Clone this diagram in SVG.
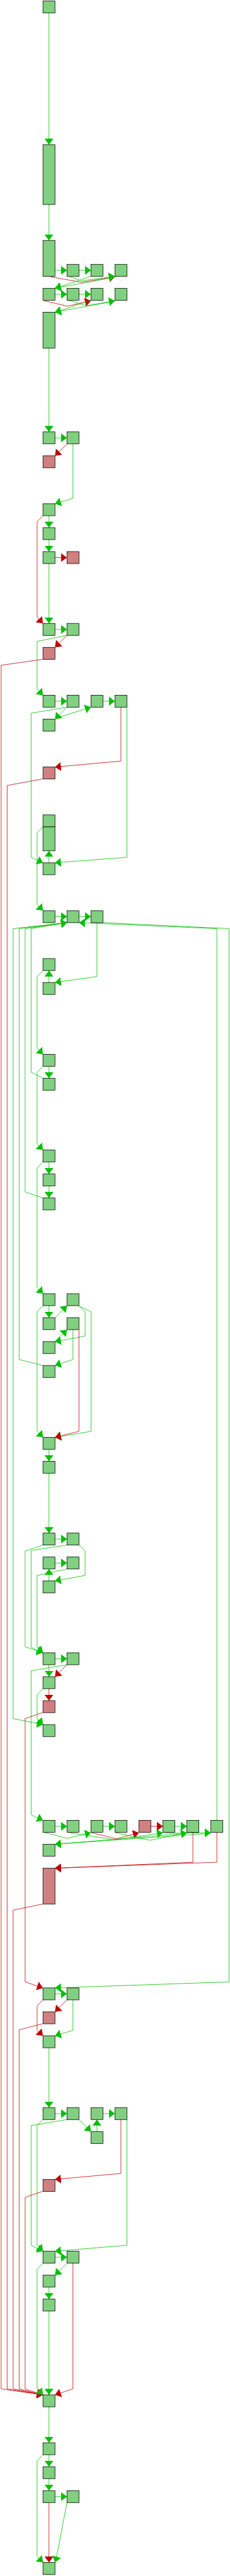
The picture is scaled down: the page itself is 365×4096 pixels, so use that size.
<svg xmlns="http://www.w3.org/2000/svg" width="365" height="4096" viewBox="0 0 365 4096">
<style>
.n{fill:#80d080;stroke:#000;stroke-width:1}
.nr{fill:#d08080;stroke:#000;stroke-width:1}
.eg{fill:none;stroke:#00c000;stroke-width:1;marker-end:url(#ag)}
.er{fill:none;stroke:#c00000;stroke-width:1;marker-end:url(#ar)}
</style>
<defs>
<marker id="ag" markerWidth="12" markerHeight="18" refX="12" refY="9" orient="auto" markerUnits="userSpaceOnUse"><path d="M0,0L12,9L0,18z" fill="#00c000"/></marker>
<marker id="ar" markerWidth="12" markerHeight="18" refX="12" refY="9" orient="auto" markerUnits="userSpaceOnUse"><path d="M0,0L12,9L0,18z" fill="#c00000"/></marker>
</defs>
<rect width="365" height="4096" fill="#fff"/>
<g transform="scale(0.793)">
<g id="connectors">
<polyline class="eg" points="98,26 98,290"/>
<polyline class="eg" points="98,410 98,482"/>
<polyline class="eg" points="110,542 134,542"/>
<polyline class="eg" points="158,542 182,542"/>
<polyline class="er" points="101,555 163,566 230,555"/>
<polyline class="eg" points="137,554 163,563 230,554"/>
<polyline class="eg" points="182,554 123,574 110,578"/>
<polyline class="eg" points="230,556 125,575 110,578"/>
<polyline class="eg" points="110,590 134,590"/>
<polyline class="eg" points="158,590 182,590"/>
<polyline class="er" points="88,603 135,614 182,603"/>
<polyline class="eg" points="137,602 173,613 230,603"/>
<polyline class="eg" points="182,602 123,622 110,626"/>
<polyline class="eg" points="230,604 125,623 110,626"/>
<polyline class="eg" points="98,698 98,866"/>
<polyline class="eg" points="110,878 134,878"/>
<polyline class="er" points="134,890 110,914"/>
<polyline class="eg" points="146,890 146,999 110,1010"/>
<polyline class="eg" points="98,1034 98,1058"/>
<polyline class="eg" points="98,1082 98,1106"/>
<polyline class="er" points="110,1118 134,1118"/>
<polyline class="eg" points="98,1130 98,1250"/>
<polyline class="er" points="86,1034 74.3,1046 74.3,1238 86,1250"/>
<polyline class="eg" points="110,1262 134,1262"/>
<polyline class="er" points="134,1274 110,1298"/>
<polyline class="eg" points="134,1274 74.3,1286 74.3,1382 86,1394"/>
<polyline class="er" points="85,1322 2.3,1334 2.3,4790 86,4802"/>
<polyline class="eg" points="110,1406 134,1406"/>
<polyline class="eg" points="206,1406 230,1406"/>
<polyline class="eg" points="134,1418 110,1442"/>
<polyline class="eg" points="112,1440 182,1418"/>
<polyline class="eg" points="134,1418 62.3,1430 62.3,1719 86,1730"/>
<polyline class="er" points="242,1418 242,1526 110,1538"/>
<polyline class="er" points="85,1562 14.3,1575 14.3,4790 86,4802"/>
<polyline class="eg" points="254,1418 254,1719 110,1730"/>
<polyline class="eg" points="86,1658 74.3,1670 74.3,1814 86,1826"/>
<polyline class="eg" points="98,1730 98,1706"/>
<polyline class="eg" points="110,1838 134,1838"/>
<polyline class="eg" points="158,1838 182,1838"/>
<polyline class="eg" points="194,1850 194,1958 110,1970"/>
<polyline class="eg" points="98,1970 98,1946"/>
<polyline class="eg" points="86,1946 74.3,1958 74.3,2102 86,2114"/>
<polyline class="eg" points="98,2138 98,2162"/>
<polyline class="eg" points="86,2138 74.3,2150 74.3,2294 86,2306"/>
<polyline class="eg" points="98,2330 98,2354"/>
<polyline class="eg" points="98,2378 98,2402"/>
<polyline class="eg" points="86,2330 74.3,2342 74.3,2582 86,2594"/>
<polyline class="eg" points="86,2162 62.3,2150 62.3,1862 134,1850"/>
<polyline class="eg" points="86,2402 50.3,2390 50.3,1862 134,1850"/>
<polyline class="eg" points="86,2738 38.3,2726 38.3,1862 134,1850"/>
<polyline class="eg" points="134,1850 26.3,1862 26.3,3446 86,3458"/>
<polyline class="eg" points="434,3650 434,1862 158,1850"/>
<polyline class="eg" points="206,1850 458.3,1862 458.3,3974 110,3986"/>
<polyline class="eg" points="98,2618 98,2642"/>
<polyline class="eg" points="110,2642 134,2618"/>
<polyline class="eg" points="86,2618 74.3,2630 74.3,2870 86,2882"/>
<polyline class="eg" points="158,2619 170.3,2630 170.3,2679 110,2690"/>
<polyline class="eg" points="158,2619 182.3,2630 182.3,2870 110,2882"/>
<polyline class="eg" points="110,2690 134,2666"/>
<polyline class="eg" points="146,2666 146,2726 110,2738"/>
<polyline class="er" points="158,2666 158,2870 110,2882"/>
<polyline class="eg" points="98,2906 98,2930"/>
<polyline class="eg" points="98,2954 98,3074"/>
<polyline class="eg" points="110,3086 134,3086"/>
<polyline class="eg" points="110,3134 134,3134"/>
<polyline class="eg" points="98,3170 98,3146"/>
<polyline class="eg" points="86,3098 50.3,3110 50.3,3302 86,3314"/>
<polyline class="eg" points="134,3098 62.3,3109 62.3,3303 86,3314"/>
<polyline class="eg" points="158,3098 170.3,3110 170.3,3159 110,3170"/>
<polyline class="eg" points="134,3146 74.3,3159 74.3,3304 86,3314"/>
<polyline class="eg" points="110,3326 134,3326"/>
<polyline class="eg" points="98,3338 98,3362"/>
<polyline class="er" points="134,3338 110,3362"/>
<polyline class="eg" points="134,3338 62.3,3350 62.3,3639 86,3650"/>
<polyline class="er" points="98,3386 98,3410"/>
<polyline class="eg" points="86,3386 74.3,3398 74.3,3446 86,3458"/>
<polyline class="er" points="85,3434 50.3,3446 50.3,3974 86,3986"/>
<polyline class="eg" points="110,3662 134,3662"/>
<polyline class="eg" points="206,3662 230,3662"/>
<polyline class="er" points="302,3662 326,3662"/>
<polyline class="eg" points="350,3662 374,3662"/>
<polyline class="eg" points="88,3674 134.3,3686 182,3675"/>
<polyline class="er" points="184,3675 233,3687 278,3675"/>
<polyline class="eg" points="140,3675 230,3689 326,3675"/>
<polyline class="eg" points="232,3675 300,3690 374,3675"/>
<polyline class="eg" points="330,3676 422,3675"/>
<polyline class="eg" points="374,3676 110,3698"/>
<polyline class="eg" points="422,3676 110,3698"/>
<polyline class="er" points="386,3674 386,3734 110,3746"/>
<polyline class="er" points="434,3674 434,3734 110,3746"/>
<polyline class="er" points="85,3818 26.3,3830 26.3,4790 86,4802"/>
<polyline class="eg" points="110,3998 134,3998"/>
<polyline class="er" points="134,4010 110,4034"/>
<polyline class="er" points="86,4010 74.3,4022 74.3,4071 86,4082"/>
<polyline class="eg" points="146,4010 146,4071 110,4082"/>
<polyline class="er" points="85,4058 38.3,4070 38.3,4790 86,4802"/>
<polyline class="eg" points="98,4106 98,4226"/>
<polyline class="eg" points="110,4238 134,4238"/>
<polyline class="eg" points="206,4238 230,4238"/>
<polyline class="eg" points="194,4274 194,4250"/>
<polyline class="eg" points="158,4250 182,4274"/>
<polyline class="eg" points="86,4250 74.3,4262 74.3,4502 86,4514"/>
<polyline class="eg" points="134,4250 62.3,4262 62.3,4502 86,4514"/>
<polyline class="er" points="242,4250 242,4358 110,4370"/>
<polyline class="eg" points="254,4250 254,4502 110,4514"/>
<polyline class="er" points="85,4394 50.3,4406 50.3,4790 86,4802"/>
<polyline class="eg" points="110,4526 134,4526"/>
<polyline class="eg" points="134,4538 110,4562"/>
<polyline class="eg" points="98,4586 98,4610"/>
<polyline class="eg" points="86,4538 74.3,4550 74.3,4790 86,4802"/>
<polyline class="er" points="146,4538 146,4790 110,4802"/>
<polyline class="eg" points="98,4634 98,4802"/>
<polyline class="eg" points="98,4826 98,4898"/>
<polyline class="eg" points="98,4922 98,4946"/>
<polyline class="eg" points="98,4970 98,4994"/>
<polyline class="eg" points="110,5006 134,5006"/>
<polyline class="eg" points="86,4922 74.3,4934 74.3,5126 86,5138"/>
<polyline class="er" points="98,5018 98,5138"/>
<polyline class="eg" points="134,5018 113,5128 110,5138"/>
</g>
<g id="n0"><rect class="n" x="86" y="2" width="24" height="24"/></g>
<g id="n1"><rect class="n" x="86" y="290" width="24" height="120"/></g>
<g id="n2"><rect class="n" x="86" y="482" width="24" height="72"/></g>
<g id="n3"><rect class="n" x="134" y="530" width="24" height="24"/></g>
<g id="n4"><rect class="n" x="182" y="530" width="24" height="24"/></g>
<g id="n5"><rect class="n" x="230" y="530" width="24" height="24"/></g>
<g id="n6"><rect class="n" x="86" y="578" width="24" height="24"/></g>
<g id="n7"><rect class="n" x="134" y="578" width="24" height="24"/></g>
<g id="n8"><rect class="n" x="182" y="578" width="24" height="24"/></g>
<g id="n9"><rect class="n" x="230" y="578" width="24" height="24"/></g>
<g id="n10"><rect class="n" x="86" y="626" width="24" height="72"/></g>
<g id="n11"><rect class="n" x="86" y="866" width="24" height="24"/></g>
<g id="n12"><rect class="n" x="134" y="866" width="24" height="24"/></g>
<g id="n13"><rect class="nr" x="86" y="914" width="24" height="24"/></g>
<g id="n14"><rect class="n" x="86" y="1010" width="24" height="24"/></g>
<g id="n15"><rect class="n" x="86" y="1058" width="24" height="24"/></g>
<g id="n16"><rect class="n" x="86" y="1106" width="24" height="24"/></g>
<g id="n17"><rect class="nr" x="134" y="1106" width="24" height="24"/></g>
<g id="n18"><rect class="n" x="86" y="1250" width="24" height="24"/></g>
<g id="n19"><rect class="n" x="134" y="1250" width="24" height="24"/></g>
<g id="n20"><rect class="nr" x="86" y="1298" width="24" height="24"/></g>
<g id="n21"><rect class="n" x="86" y="1394" width="24" height="24"/></g>
<g id="n22"><rect class="n" x="134" y="1394" width="24" height="24"/></g>
<g id="n23"><rect class="n" x="182" y="1394" width="24" height="24"/></g>
<g id="n24"><rect class="n" x="230" y="1394" width="24" height="24"/></g>
<g id="n25"><rect class="n" x="86" y="1442" width="24" height="24"/></g>
<g id="n26"><rect class="nr" x="86" y="1538" width="24" height="24"/></g>
<g id="n27"><rect class="n" x="86" y="1634" width="24" height="24"/></g>
<g id="n28"><rect class="n" x="86" y="1658" width="24" height="48"/></g>
<g id="n29"><rect class="n" x="86" y="1730" width="24" height="24"/></g>
<g id="n30"><rect class="n" x="86" y="1826" width="24" height="24"/></g>
<g id="n31"><rect class="n" x="134" y="1826" width="24" height="24"/></g>
<g id="n32"><rect class="n" x="182" y="1826" width="24" height="24"/></g>
<g id="n33"><rect class="n" x="86" y="1922" width="24" height="24"/></g>
<g id="n34"><rect class="n" x="86" y="1970" width="24" height="24"/></g>
<g id="n35"><rect class="n" x="86" y="2114" width="24" height="24"/></g>
<g id="n36"><rect class="n" x="86" y="2162" width="24" height="24"/></g>
<g id="n37"><rect class="n" x="86" y="2306" width="24" height="24"/></g>
<g id="n38"><rect class="n" x="86" y="2354" width="24" height="24"/></g>
<g id="n39"><rect class="n" x="86" y="2402" width="24" height="24"/></g>
<g id="n40"><rect class="n" x="86" y="2594" width="24" height="24"/></g>
<g id="n41"><rect class="n" x="134" y="2594" width="24" height="24"/></g>
<g id="n42"><rect class="n" x="86" y="2642" width="24" height="24"/></g>
<g id="n43"><rect class="n" x="134" y="2642" width="24" height="24"/></g>
<g id="n44"><rect class="n" x="86" y="2690" width="24" height="24"/></g>
<g id="n45"><rect class="n" x="86" y="2738" width="24" height="24"/></g>
<g id="n46"><rect class="n" x="86" y="2882" width="24" height="24"/></g>
<g id="n47"><rect class="n" x="86" y="2930" width="24" height="24"/></g>
<g id="n48"><rect class="n" x="86" y="3074" width="24" height="24"/></g>
<g id="n49"><rect class="n" x="134" y="3074" width="24" height="24"/></g>
<g id="n50"><rect class="n" x="86" y="3122" width="24" height="24"/></g>
<g id="n51"><rect class="n" x="134" y="3122" width="24" height="24"/></g>
<g id="n52"><rect class="n" x="86" y="3170" width="24" height="24"/></g>
<g id="n53"><rect class="n" x="86" y="3314" width="24" height="24"/></g>
<g id="n54"><rect class="n" x="134" y="3314" width="24" height="24"/></g>
<g id="n55"><rect class="n" x="86" y="3362" width="24" height="24"/></g>
<g id="n56"><rect class="nr" x="86" y="3410" width="24" height="24"/></g>
<g id="n57"><rect class="n" x="86" y="3458" width="24" height="24"/></g>
<g id="n58"><rect class="n" x="86" y="3650" width="24" height="24"/></g>
<g id="n59"><rect class="n" x="134" y="3650" width="24" height="24"/></g>
<g id="n60"><rect class="n" x="182" y="3650" width="24" height="24"/></g>
<g id="n61"><rect class="n" x="230" y="3650" width="24" height="24"/></g>
<g id="n62"><rect class="nr" x="278" y="3650" width="24" height="24"/></g>
<g id="n63"><rect class="n" x="326" y="3650" width="24" height="24"/></g>
<g id="n64"><rect class="n" x="374" y="3650" width="24" height="24"/></g>
<g id="n65"><rect class="n" x="422" y="3650" width="24" height="24"/></g>
<g id="n66"><rect class="n" x="86" y="3698" width="24" height="24"/></g>
<g id="n67"><rect class="nr" x="86" y="3746" width="24" height="72"/></g>
<g id="n68"><rect class="n" x="86" y="3986" width="24" height="24"/></g>
<g id="n69"><rect class="n" x="134" y="3986" width="24" height="24"/></g>
<g id="n70"><rect class="nr" x="86" y="4034" width="24" height="24"/></g>
<g id="n71"><rect class="n" x="86" y="4082" width="24" height="24"/></g>
<g id="n72"><rect class="n" x="86" y="4226" width="24" height="24"/></g>
<g id="n73"><rect class="n" x="134" y="4226" width="24" height="24"/></g>
<g id="n74"><rect class="n" x="182" y="4226" width="24" height="24"/></g>
<g id="n75"><rect class="n" x="230" y="4226" width="24" height="24"/></g>
<g id="n76"><rect class="n" x="182" y="4274" width="24" height="24"/></g>
<g id="n77"><rect class="nr" x="86" y="4370" width="24" height="24"/></g>
<g id="n78"><rect class="n" x="86" y="4514" width="24" height="24"/></g>
<g id="n79"><rect class="n" x="134" y="4514" width="24" height="24"/></g>
<g id="n80"><rect class="n" x="86" y="4562" width="24" height="24"/></g>
<g id="n81"><rect class="n" x="86" y="4610" width="24" height="24"/></g>
<g id="n82"><rect class="n" x="86" y="4802" width="24" height="24"/></g>
<g id="n83"><rect class="n" x="86" y="4898" width="24" height="24"/></g>
<g id="n84"><rect class="n" x="86" y="4946" width="24" height="24"/></g>
<g id="n85"><rect class="n" x="86" y="4994" width="24" height="24"/></g>
<g id="n86"><rect class="n" x="134" y="4994" width="24" height="24"/></g>
<g id="n87"><rect class="n" x="86" y="5138" width="24" height="24"/></g>
</g>
</svg>
